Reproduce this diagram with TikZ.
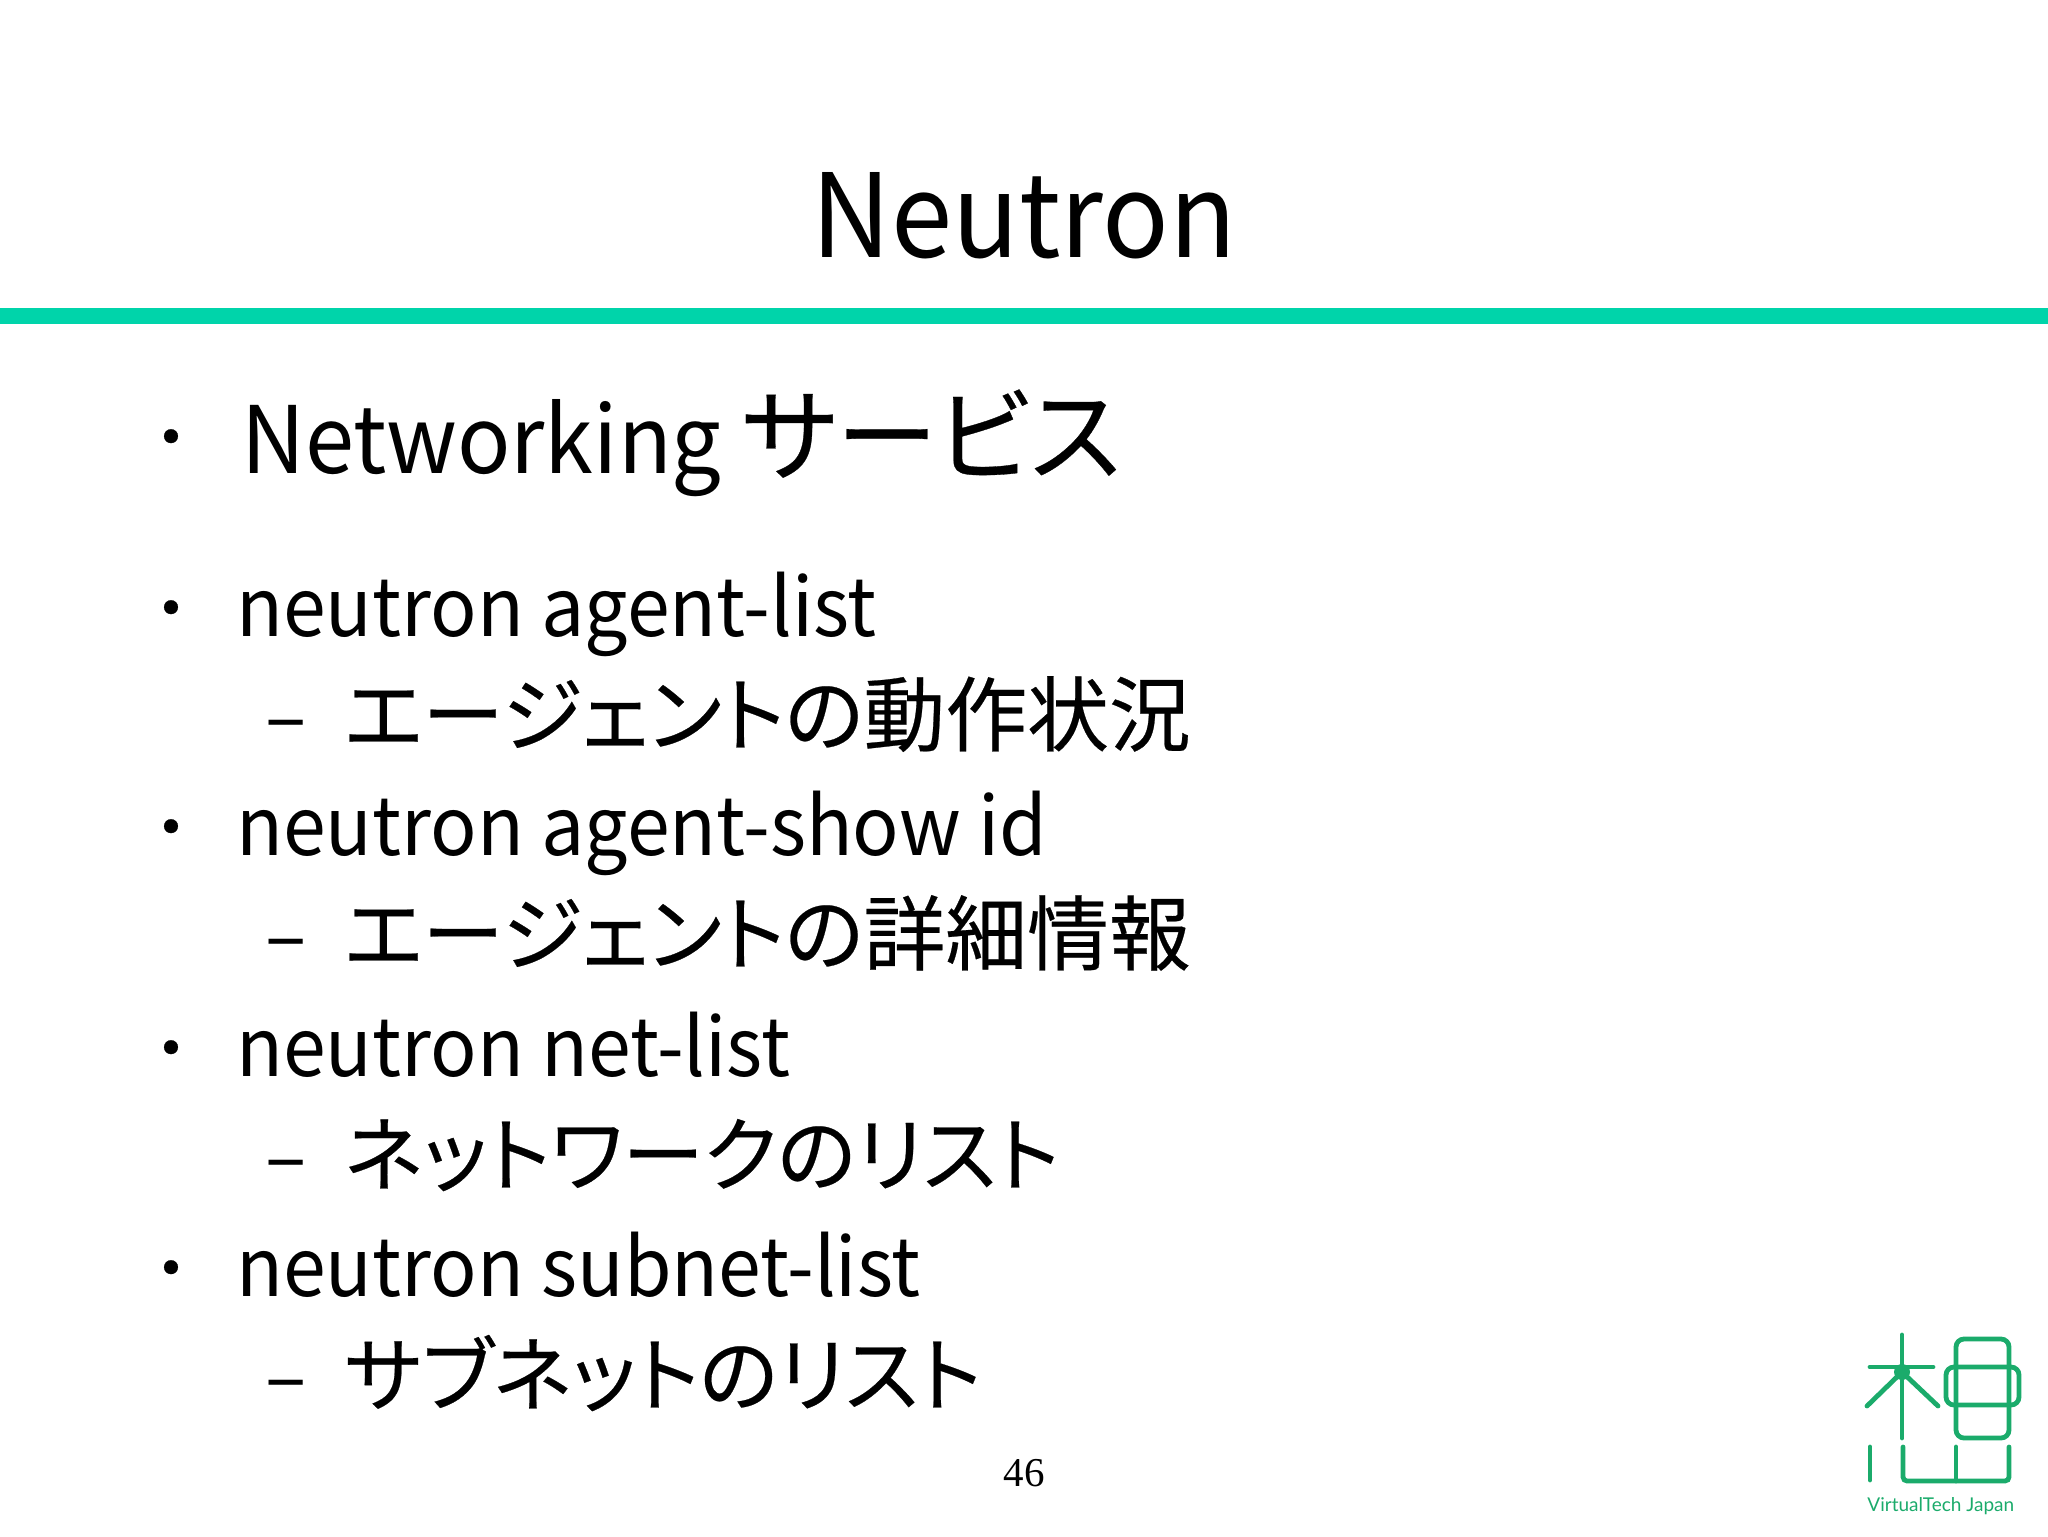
\documentclass[tikz,border=0pt]{standalone}
\usepackage{fontspec}
\setmainfont[FakeStretch=0.95]{Noto Sans CJK JP}
\newfontfamily\jpfont[Scale=1.01, FakeBold=0.3, RawFeature=+palt]{Noto Sans CJK JP}
\newfontfamily\jptopfont[Scale=1.09, FakeBold=0.3, RawFeature=+palt]{Noto Sans CJK JP}
\newfontfamily\numfont{Liberation Serif}
\newfontfamily\logofont{Lato}
\definecolor{colrule}{RGB}{0,212,170}
\definecolor{collogo}{RGB}{27,171,107}
\tikzset{
	titletext/.style={anchor=base, font=\fontsize{58}{58}\selectfont},
	toptext/.style={anchor=base west, inner sep=0pt, font=\fontsize{46.5}{46.5}\selectfont},
	itemtext/.style={anchor=base west, inner sep=0pt, font=\fontsize{40.5}{40.5}\selectfont},
	dottext/.style={anchor=base, inner sep=0pt, font=\jptopfont\fontsize{30}{30}\selectfont},
	logoline/.style={draw=collogo, line width=2.4pt, line cap=round}
}
\begin{document}
\begin{tikzpicture}[x=0.5pt, y=-0.5pt]
	\useasboundingbox (0,0) rectangle (2048,1536);
	\node[titletext] (title) at (1024,257) {Neutron};
	\fill[colrule] (0,308) rectangle (2048,324);
	\node[dottext] (dotnet) at (171,461) {・};
	\node[toptext] (net) at (241,473) {Networking {\jptopfont サービス}};
	% command and its meaning, one pair per row
	\foreach \y/\cmd/\txt/\id in {
		636/neutron agent-list/エージェントの動作状況/a,
		855/neutron agent-show id/エージェントの詳細情報/b,
		1076/neutron net-list/ネットワークのリスト/c,
		1296/neutron subnet-list/サブネットのリスト/d
	} {
		\node[dottext] (dot\id) at (171,\y-4) {・};
		\node[itemtext] (cmd\id) at (236,\y) {\cmd};
		\node[itemtext] (dash\id) at (265,\y+109) {–};
		\node[itemtext] (txt\id) at (344,\y+109) {\jpfont\txt};
	}
	\node[anchor=base, inner sep=0pt, font=\numfont\fontsize{20.5}{20.5}\selectfont] (page) at (1024,1486) {46};
	% logo
	\draw[logoline] (1902,1335) -- (1902,1438);
	\draw[logoline] (1870,1367) -- (1933,1367);
	\draw[logoline] (1867,1406) -- (1902,1372) -- (1938,1406);
	\fill[collogo] (1902,1372) circle (8);
	\draw[logoline, rounded corners=4pt] (1956,1339) rectangle (2009,1438);
	\draw[logoline, rounded corners=4pt] (1946,1367) rectangle (2019,1405);
	\draw[logoline] (1870,1447) -- (1870,1480);
	\draw[logoline, rounded corners=2pt] (1903,1447) -- (1903,1481) -- (2009,1481) -- (2009,1447);
	\draw[logoline] (1956,1447) -- (1956,1481);
	\node[anchor=base west, inner sep=0pt, text=collogo, font=\logofont\fontsize{9.5}{9.5}\selectfont] (brand) at (1867,1511) {VirtualTech Japan};
\end{tikzpicture}
\end{document}
